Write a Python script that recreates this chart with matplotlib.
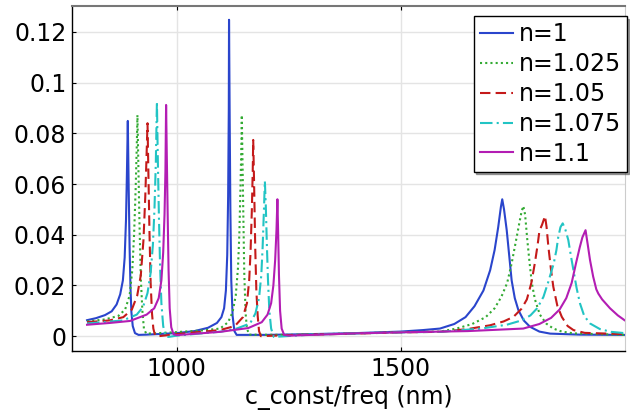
import matplotlib
matplotlib.use("Agg")
import matplotlib.pyplot as plt

# wavelength (nm) and value for each refractive index
x_n1 = [800, 820, 840, 855, 866, 874, 880, 884, 887, 889, 891, 893, 895, 897, 899, 902, 907,
        915, 933, 1000, 1040, 1070, 1090, 1100, 1106, 1110, 1113, 1115, 1116.5, 1117, 1118.5,
        1120, 1122, 1125, 1129, 1134, 1200, 1300, 1400, 1500, 1550, 1588, 1620, 1645, 1665,
        1685, 1700, 1710, 1718, 1724, 1727, 1731, 1737, 1743, 1748, 1755, 1763, 1775, 1789,
        1810, 1834, 1900, 2000]
y_n1 = [0.0063, 0.0071, 0.0083, 0.0098, 0.0125, 0.0165, 0.022, 0.031, 0.046, 0.064, 0.0849,
        0.058, 0.035, 0.019, 0.0095, 0.004, 0.0012, 0.0005, 0.0006, 0.0012, 0.002, 0.0033,
        0.0052, 0.0075, 0.011, 0.018, 0.032, 0.055, 0.09, 0.1248, 0.085, 0.05, 0.022, 0.008,
        0.002, 0.0005, 0.0005, 0.0008, 0.0012, 0.0018, 0.0024, 0.003, 0.0048, 0.0075, 0.0118,
        0.018, 0.026, 0.034, 0.043, 0.051, 0.054, 0.05, 0.0418, 0.031, 0.022, 0.015, 0.0103,
        0.0062, 0.0037, 0.0018, 0.001, 0.0006, 0.0005]

x_n1025 = [800, 840, 870, 885, 895, 901, 905, 908.5, 911, 912.5, 914.5, 917, 920, 923.5, 927,
           932, 960, 1000, 1060, 1097, 1115, 1125, 1132, 1137, 1140, 1142.5, 1144.5, 1145.5,
           1147, 1149, 1151, 1154, 1157, 1162, 1250, 1400, 1500, 1588, 1625, 1660, 1690, 1710,
           1725, 1738, 1748, 1757, 1765, 1770, 1774, 1778, 1783, 1788, 1793, 1800, 1811, 1825,
           1841, 1860, 1886, 2000]
y_n1025 = [0.0058, 0.0066, 0.008, 0.0105, 0.016, 0.026, 0.04, 0.058, 0.075, 0.0872, 0.068,
           0.045, 0.023, 0.01, 0.003, 0.001, 0.0012, 0.0016, 0.0023, 0.003, 0.0055, 0.0095,
           0.016, 0.027, 0.04, 0.058, 0.075, 0.0872, 0.07, 0.047, 0.025, 0.009, 0.003, 0.0006,
           0.0005, 0.0011, 0.0016, 0.0018, 0.003, 0.0048, 0.0075, 0.011, 0.0155, 0.021, 0.0287,
           0.037, 0.0445, 0.049, 0.0513, 0.048, 0.0379, 0.029, 0.021, 0.0145, 0.0085, 0.005,
           0.003, 0.0018, 0.0011, 0.0005]

x_n105 = [800, 850, 881, 900, 912, 920, 926, 930, 933, 935, 937, 939.5, 942, 945, 948, 952, 960,
          1000, 1097, 1130, 1148, 1157, 1162, 1165, 1168, 1170, 1171, 1173, 1175.5, 1178, 1181,
          1184, 1188, 1250, 1400, 1500, 1588, 1650, 1700, 1730, 1752, 1770, 1782, 1792, 1800,
          1806, 1810, 1816, 1822.5, 1826, 1830, 1836, 1841, 1850, 1860, 1873, 1886, 1911, 2000]
y_n105 = [0.0055, 0.0062, 0.0075, 0.0105, 0.016, 0.024, 0.038, 0.055, 0.072, 0.084, 0.064,
          0.04, 0.021, 0.009, 0.003, 0.0002, 0.0, 0.0008, 0.0024, 0.004, 0.0075, 0.013, 0.022,
          0.033, 0.05, 0.066, 0.0774, 0.06, 0.035, 0.018, 0.008, 0.002, 0.0, 0.0004, 0.001,
          0.0015, 0.0017, 0.0028, 0.0043, 0.0058, 0.0076, 0.0108, 0.0145, 0.021, 0.029, 0.036,
          0.0415, 0.044, 0.0474, 0.043, 0.0353, 0.026, 0.0195, 0.012, 0.0076, 0.004, 0.0024,
          0.0013, 0.0008]

x_n1075 = [800, 880, 911, 925, 935, 942, 947, 950.5, 953.5, 956, 958, 960.5, 963, 966, 970, 975,
           982, 1000, 1100, 1134, 1164, 1176, 1184, 1189, 1192, 1195, 1197, 1199, 1201.5, 1204,
           1207, 1211, 1217, 1300, 1500, 1588, 1680, 1737, 1770, 1790, 1805, 1819, 1830, 1842,
           1848, 1852, 1857, 1862, 1868, 1874.5, 1880, 1886, 1893, 1900.6, 1910, 1923, 1945,
           1970, 2000]
y_n1075 = [0.005, 0.0062, 0.0085, 0.0115, 0.017, 0.025, 0.036, 0.05, 0.068, 0.0925, 0.07, 0.047,
           0.028, 0.013, 0.004, 0.0, -0.0003, 0.0002, 0.0018, 0.003, 0.005, 0.009, 0.015, 0.024,
           0.035, 0.05, 0.0612, 0.052, 0.036, 0.022, 0.01, 0.003, -0.0003, 0.0006, 0.0015,
           0.0017, 0.003, 0.0045, 0.0062, 0.0082, 0.011, 0.0155, 0.0215, 0.0287, 0.034, 0.039,
           0.043, 0.0445, 0.042, 0.0379, 0.032, 0.026, 0.019, 0.0129, 0.008, 0.005, 0.0028,
           0.0017, 0.0012]

x_n11 = [800, 850, 896, 933, 950, 960, 966, 970, 973, 975, 976.5, 978, 980, 982, 984.5, 988,
         993, 1000, 1097, 1160, 1190, 1203, 1211, 1216, 1220, 1223, 1225, 1226.5, 1228.5, 1231,
         1234.5, 1240, 1250, 1400, 1500, 1650, 1774, 1810, 1836, 1855, 1870, 1882, 1892, 1900,
         1906, 1913, 1918, 1923, 1930, 1937, 1941.5, 1950, 1967.6, 1985, 2000]
y_n11 = [0.0045, 0.0052, 0.006, 0.0085, 0.011, 0.015, 0.022, 0.033, 0.048, 0.065, 0.0912,
         0.072, 0.048, 0.026, 0.011, 0.0035, 0.0008, 0.0004, 0.0017, 0.0032, 0.0055, 0.0085,
         0.013, 0.02, 0.03, 0.042, 0.054, 0.042, 0.024, 0.01, 0.003, 0.0005, 0.0002, 0.0011,
         0.0015, 0.002, 0.003, 0.0048, 0.0072, 0.0105, 0.015, 0.021, 0.029, 0.035, 0.039,
         0.0418, 0.036, 0.030, 0.0235, 0.0185, 0.0168, 0.0145, 0.011, 0.0082, 0.0063]

labels = ["n=1", "n=1.025", "n=1.05", "n=1.075", "n=1.1"]
yticks = [0, 0.02, 0.04, 0.06, 0.08, 0.1, 0.12]
ytick_labels = ["0", "0.02", "0.04", "0.06", "0.08", "0.1", "0.12"]
xticks = [1000, 1500]

plt.rcParams["font.family"] = "DejaVu Sans"
plt.rcParams["font.size"] = 17

fig = plt.figure(figsize=(6.3, 4.17), dpi=100)
ax = fig.add_axes([0.114, 0.158, 0.878, 0.828])

ax.plot(x_n1, y_n1, color="#2a45cc", lw=1.5, ls="-", label=labels[0])
ax.plot(x_n1025, y_n1025, color="#33aa33", lw=1.5, ls=(0, (1, 1.5)), label=labels[1])
ax.plot(x_n105, y_n105, color="#c41a1a", lw=1.5, ls=(0, (5, 2.5)), label=labels[2])
ax.plot(x_n1075, y_n1075, color="#22c4c4", lw=1.5, ls=(0, (6, 2, 1, 2)), label=labels[3])
ax.plot(x_n11, y_n11, color="#b31db3", lw=1.5, ls="-", label=labels[4])

ax.set_xlim(766, 2001)
ax.set_ylim(-0.0059, 0.1303)
ax.set_yticks(yticks)
ax.set_yticklabels(ytick_labels)
ax.set_xticks(xticks)
ax.grid(True, color="#e4e4e4", lw=1.0)
ax.set_axisbelow(True)
ax.tick_params(direction="in", length=3, width=0.8, pad=4)
ax.tick_params(axis="x", top=True)

for side in ["left", "bottom"]:
    ax.spines[side].set_color("black")
    ax.spines[side].set_linewidth(1.0)
ax.spines["top"].set_color("#777777")
ax.spines["top"].set_linewidth(1.5)
ax.spines["right"].set_color("#cccccc")

ax.set_xlabel("c_const/freq (nm)", labelpad=3)

leg = ax.legend(loc="upper right", bbox_to_anchor=(1.003, 0.97), fancybox=False, shadow=True,
                handlelength=1.4, handletextpad=0.25, labelspacing=0.25, borderpad=0.25,
                framealpha=1, borderaxespad=0)
leg.get_frame().set_edgecolor("black")
leg.get_frame().set_linewidth(1.0)

fig.savefig("out.png", dpi=100)
